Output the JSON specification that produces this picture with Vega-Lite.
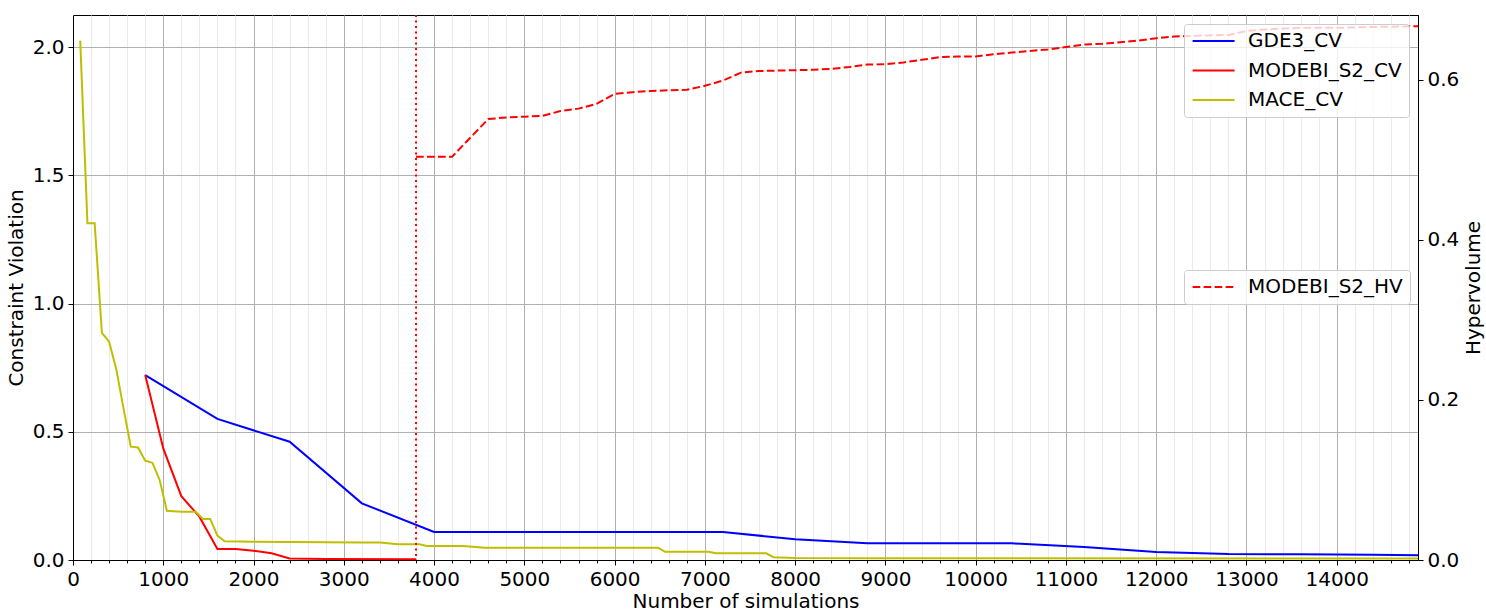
{
  "$schema": "https://vega.github.io/schema/vega-lite/v6.json",
  "width": 1345,
  "height": 545,
  "autosize": {"type": "none"},
  "padding": {"left": 73, "top": 15, "right": 68, "bottom": 51},
  "background": "white",
  "config": {
    "font": "DejaVu Sans",
    "view": {"stroke": "black", "strokeWidth": 1},
    "axis": {
      "domainColor": "black",
      "domainWidth": 1,
      "tickColor": "black",
      "tickWidth": 1,
      "tickSize": 5,
      "labelColor": "black",
      "titleColor": "black",
      "labelFont": "DejaVu Sans",
      "titleFont": "DejaVu Sans",
      "labelFontSize": 20,
      "titleFontSize": 20,
      "titleFontWeight": "normal",
      "labelPadding": 4,
      "gridColor": "#b0b0b0",
      "gridWidth": 1
    }
  },
  "datasets": {
    "cv": [
      {"sims": 800, "value": 0.721, "series": "GDE3_CV"},
      {"sims": 1600, "value": 0.55, "series": "GDE3_CV"},
      {"sims": 2400, "value": 0.461, "series": "GDE3_CV"},
      {"sims": 3200, "value": 0.221, "series": "GDE3_CV"},
      {"sims": 4000, "value": 0.109, "series": "GDE3_CV"},
      {"sims": 4800, "value": 0.109, "series": "GDE3_CV"},
      {"sims": 5600, "value": 0.109, "series": "GDE3_CV"},
      {"sims": 6400, "value": 0.109, "series": "GDE3_CV"},
      {"sims": 7200, "value": 0.109, "series": "GDE3_CV"},
      {"sims": 8000, "value": 0.081, "series": "GDE3_CV"},
      {"sims": 8800, "value": 0.065, "series": "GDE3_CV"},
      {"sims": 9600, "value": 0.065, "series": "GDE3_CV"},
      {"sims": 10400, "value": 0.065, "series": "GDE3_CV"},
      {"sims": 11200, "value": 0.051, "series": "GDE3_CV"},
      {"sims": 12000, "value": 0.031, "series": "GDE3_CV"},
      {"sims": 12800, "value": 0.023, "series": "GDE3_CV"},
      {"sims": 13600, "value": 0.022, "series": "GDE3_CV"},
      {"sims": 14400, "value": 0.02, "series": "GDE3_CV"},
      {"sims": 14900, "value": 0.019, "series": "GDE3_CV"},
      {"sims": 800, "value": 0.721, "series": "MODEBI_S2_CV"},
      {"sims": 1000, "value": 0.435, "series": "MODEBI_S2_CV"},
      {"sims": 1200, "value": 0.249, "series": "MODEBI_S2_CV"},
      {"sims": 1400, "value": 0.169, "series": "MODEBI_S2_CV"},
      {"sims": 1600, "value": 0.043, "series": "MODEBI_S2_CV"},
      {"sims": 1800, "value": 0.043, "series": "MODEBI_S2_CV"},
      {"sims": 2000, "value": 0.036, "series": "MODEBI_S2_CV"},
      {"sims": 2200, "value": 0.026, "series": "MODEBI_S2_CV"},
      {"sims": 2400, "value": 0.006, "series": "MODEBI_S2_CV"},
      {"sims": 2800, "value": 0.004, "series": "MODEBI_S2_CV"},
      {"sims": 3800, "value": 0.003, "series": "MODEBI_S2_CV"},
      {"sims": 80, "value": 2.025, "series": "MACE_CV"},
      {"sims": 160, "value": 1.313, "series": "MACE_CV"},
      {"sims": 240, "value": 1.313, "series": "MACE_CV"},
      {"sims": 320, "value": 0.886, "series": "MACE_CV"},
      {"sims": 400, "value": 0.851, "series": "MACE_CV"},
      {"sims": 480, "value": 0.743, "series": "MACE_CV"},
      {"sims": 560, "value": 0.59, "series": "MACE_CV"},
      {"sims": 640, "value": 0.442, "series": "MACE_CV"},
      {"sims": 720, "value": 0.439, "series": "MACE_CV"},
      {"sims": 800, "value": 0.387, "series": "MACE_CV"},
      {"sims": 880, "value": 0.379, "series": "MACE_CV"},
      {"sims": 960, "value": 0.312, "series": "MACE_CV"},
      {"sims": 1040, "value": 0.192, "series": "MACE_CV"},
      {"sims": 1200, "value": 0.188, "series": "MACE_CV"},
      {"sims": 1360, "value": 0.188, "series": "MACE_CV"},
      {"sims": 1440, "value": 0.16, "series": "MACE_CV"},
      {"sims": 1520, "value": 0.16, "series": "MACE_CV"},
      {"sims": 1600, "value": 0.095, "series": "MACE_CV"},
      {"sims": 1680, "value": 0.073, "series": "MACE_CV"},
      {"sims": 2000, "value": 0.071, "series": "MACE_CV"},
      {"sims": 2400, "value": 0.07, "series": "MACE_CV"},
      {"sims": 2800, "value": 0.069, "series": "MACE_CV"},
      {"sims": 3200, "value": 0.068, "series": "MACE_CV"},
      {"sims": 3400, "value": 0.068, "series": "MACE_CV"},
      {"sims": 3600, "value": 0.061, "series": "MACE_CV"},
      {"sims": 3840, "value": 0.061, "series": "MACE_CV"},
      {"sims": 3920, "value": 0.055, "series": "MACE_CV"},
      {"sims": 4320, "value": 0.055, "series": "MACE_CV"},
      {"sims": 4560, "value": 0.048, "series": "MACE_CV"},
      {"sims": 6480, "value": 0.048, "series": "MACE_CV"},
      {"sims": 6560, "value": 0.032, "series": "MACE_CV"},
      {"sims": 7040, "value": 0.032, "series": "MACE_CV"},
      {"sims": 7120, "value": 0.026, "series": "MACE_CV"},
      {"sims": 7680, "value": 0.026, "series": "MACE_CV"},
      {"sims": 7760, "value": 0.011, "series": "MACE_CV"},
      {"sims": 8000, "value": 0.008, "series": "MACE_CV"},
      {"sims": 9000, "value": 0.007, "series": "MACE_CV"},
      {"sims": 14900, "value": 0.006, "series": "MACE_CV"}
    ],
    "hv": [
      {"sims": 3800, "hv": 0.504, "series": "MODEBI_S2_HV"},
      {"sims": 4200, "hv": 0.504, "series": "MODEBI_S2_HV"},
      {"sims": 4600, "hv": 0.551, "series": "MODEBI_S2_HV"},
      {"sims": 4800, "hv": 0.553, "series": "MODEBI_S2_HV"},
      {"sims": 5000, "hv": 0.554, "series": "MODEBI_S2_HV"},
      {"sims": 5200, "hv": 0.555, "series": "MODEBI_S2_HV"},
      {"sims": 5400, "hv": 0.561, "series": "MODEBI_S2_HV"},
      {"sims": 5600, "hv": 0.564, "series": "MODEBI_S2_HV"},
      {"sims": 5800, "hv": 0.57, "series": "MODEBI_S2_HV"},
      {"sims": 6000, "hv": 0.5825, "series": "MODEBI_S2_HV"},
      {"sims": 6200, "hv": 0.5846, "series": "MODEBI_S2_HV"},
      {"sims": 6400, "hv": 0.586, "series": "MODEBI_S2_HV"},
      {"sims": 6600, "hv": 0.587, "series": "MODEBI_S2_HV"},
      {"sims": 6800, "hv": 0.5875, "series": "MODEBI_S2_HV"},
      {"sims": 7000, "hv": 0.5925, "series": "MODEBI_S2_HV"},
      {"sims": 7200, "hv": 0.599, "series": "MODEBI_S2_HV"},
      {"sims": 7400, "hv": 0.609, "series": "MODEBI_S2_HV"},
      {"sims": 7600, "hv": 0.611, "series": "MODEBI_S2_HV"},
      {"sims": 8000, "hv": 0.612, "series": "MODEBI_S2_HV"},
      {"sims": 8200, "hv": 0.6125, "series": "MODEBI_S2_HV"},
      {"sims": 8400, "hv": 0.6137, "series": "MODEBI_S2_HV"},
      {"sims": 8600, "hv": 0.616, "series": "MODEBI_S2_HV"},
      {"sims": 8800, "hv": 0.619, "series": "MODEBI_S2_HV"},
      {"sims": 9000, "hv": 0.6196, "series": "MODEBI_S2_HV"},
      {"sims": 9200, "hv": 0.6217, "series": "MODEBI_S2_HV"},
      {"sims": 9400, "hv": 0.625, "series": "MODEBI_S2_HV"},
      {"sims": 9600, "hv": 0.6283, "series": "MODEBI_S2_HV"},
      {"sims": 9800, "hv": 0.629, "series": "MODEBI_S2_HV"},
      {"sims": 10000, "hv": 0.6292, "series": "MODEBI_S2_HV"},
      {"sims": 10200, "hv": 0.632, "series": "MODEBI_S2_HV"},
      {"sims": 10400, "hv": 0.634, "series": "MODEBI_S2_HV"},
      {"sims": 10600, "hv": 0.636, "series": "MODEBI_S2_HV"},
      {"sims": 10800, "hv": 0.638, "series": "MODEBI_S2_HV"},
      {"sims": 11000, "hv": 0.641, "series": "MODEBI_S2_HV"},
      {"sims": 11200, "hv": 0.644, "series": "MODEBI_S2_HV"},
      {"sims": 11400, "hv": 0.645, "series": "MODEBI_S2_HV"},
      {"sims": 11600, "hv": 0.647, "series": "MODEBI_S2_HV"},
      {"sims": 11800, "hv": 0.649, "series": "MODEBI_S2_HV"},
      {"sims": 12000, "hv": 0.652, "series": "MODEBI_S2_HV"},
      {"sims": 12200, "hv": 0.654, "series": "MODEBI_S2_HV"},
      {"sims": 12400, "hv": 0.655, "series": "MODEBI_S2_HV"},
      {"sims": 12800, "hv": 0.656, "series": "MODEBI_S2_HV"},
      {"sims": 13000, "hv": 0.661, "series": "MODEBI_S2_HV"},
      {"sims": 13200, "hv": 0.663, "series": "MODEBI_S2_HV"},
      {"sims": 13600, "hv": 0.665, "series": "MODEBI_S2_HV"},
      {"sims": 14000, "hv": 0.665, "series": "MODEBI_S2_HV"},
      {"sims": 14400, "hv": 0.666, "series": "MODEBI_S2_HV"},
      {"sims": 14900, "hv": 0.667, "series": "MODEBI_S2_HV"}
    ],
    "marker": [{"sims": 3800}]
  },
  "encoding": {
    "x": {
      "field": "sims",
      "type": "quantitative",
      "scale": {"domain": [0, 14900], "nice": false, "zero": false},
      "axis": {
        "title": "Number of simulations",
        "titlePadding": 2,
        "values": [0,200,400,600,800,1000,1200,1400,1600,1800,2000,2200,2400,2600,2800,3000,3200,3400,3600,3800,4000,4200,4400,4600,4800,5000,5200,5400,5600,5800,6000,6200,6400,6600,6800,7000,7200,7400,7600,7800,8000,8200,8400,8600,8800,9000,9200,9400,9600,9800,10000,10200,10400,10600,10800,11000,11200,11400,11600,11800,12000,12200,12400,12600,12800,13000,13200,13400,13600,13800,14000,14200,14400,14600,14800],
        "labelExpr": "datum.value % 1000 === 0 ? '' + datum.value : ''",
        "labelOverlap": false,
        "labelFlush": false,
        "labelBound": false,
        "grid": true,
        "gridColor": {"condition": {"test": "datum.value % 1000 === 0", "value": "#b0b0b0"}, "value": "#ebebeb"},
        "tickSize": {"condition": {"test": "datum.value % 1000 === 0", "value": 5}, "value": 3}
      }
    }
  },
  "layer": [
    {
      "data": {"name": "cv"},
      "mark": {"type": "line", "strokeWidth": 2},
      "encoding": {
        "y": {
          "field": "value",
          "type": "quantitative",
          "scale": {"domain": [0, 2.125], "nice": false},
          "axis": {"orient": "left", "title": "Constraint Violation", "titlePadding": 6, "values": [0, 0.5, 1, 1.5, 2], "format": ".1f", "grid": true}
        },
        "color": {
          "field": "series",
          "type": "nominal",
          "scale": {"domain": ["GDE3_CV", "MODEBI_S2_CV", "MACE_CV"], "range": ["#0000ff", "#ff0000", "#bfbf00"]},
          "legend": {
            "orient": "none", "legendX": 1111, "legendY": 9, "direction": "vertical",
            "title": null,
            "symbolType": "M-1.2,0H4.8", "symbolSize": 196, "symbolStrokeWidth": 2,
            "labelFontSize": 20, "labelFont": "DejaVu Sans", "labelColor": "black", "labelOffset": 37, "labelLimit": 400,
            "fillColor": "rgba(255,255,255,0.8)", "strokeColor": "#cccccc", "cornerRadius": 3,
            "padding": 7, "rowPadding": 9.5
          }
        }
      }
    },
    {
      "data": {"name": "hv"},
      "mark": {"type": "line", "strokeWidth": 2},
      "encoding": {
        "y": {
          "field": "hv",
          "type": "quantitative",
          "scale": {"domain": [0, 0.681], "nice": false},
          "axis": {"orient": "right", "title": "Hypervolume", "titlePadding": 5, "titleAngle": 270, "titleBaseline": "top", "values": [0, 0.2, 0.4, 0.6], "format": ".1f", "grid": false}
        },
        "color": {
          "field": "series",
          "type": "nominal",
          "scale": {"domain": ["MODEBI_S2_HV"], "range": ["#ff0000"]},
          "legend": {
            "orient": "none", "legendX": 1111, "legendY": 255, "direction": "vertical",
            "title": null,
            "symbolType": "M-1.2,0H4.8", "symbolSize": 196, "symbolStrokeWidth": 2,
            "labelFontSize": 20, "labelFont": "DejaVu Sans", "labelColor": "black", "labelOffset": 37, "labelLimit": 400,
            "fillColor": "rgba(255,255,255,0.8)", "strokeColor": "#cccccc", "cornerRadius": 3,
            "padding": 7, "rowPadding": 9.5
          }
        },
        "strokeDash": {
          "field": "series",
          "type": "nominal",
          "scale": {"domain": ["MODEBI_S2_HV"], "range": [[7.7, 3.3]]},
          "legend": {
            "orient": "none", "legendX": 1111, "legendY": 255, "direction": "vertical",
            "title": null,
            "symbolType": "M-1.2,0H4.8", "symbolSize": 196, "symbolStrokeWidth": 2,
            "labelFontSize": 20, "labelFont": "DejaVu Sans", "labelColor": "black", "labelOffset": 37, "labelLimit": 400,
            "fillColor": "rgba(255,255,255,0.8)", "strokeColor": "#cccccc", "cornerRadius": 3,
            "padding": 7, "rowPadding": 9.5
          }
        }
      }
    },
    {
      "data": {"name": "marker"},
      "mark": {"type": "rule", "color": "#ff0000", "strokeWidth": 2, "strokeDash": [2.1, 3.4]},
      "encoding": {}
    }
  ],
  "resolve": {"scale": {"y": "independent", "color": "independent", "strokeDash": "independent"}}
}
